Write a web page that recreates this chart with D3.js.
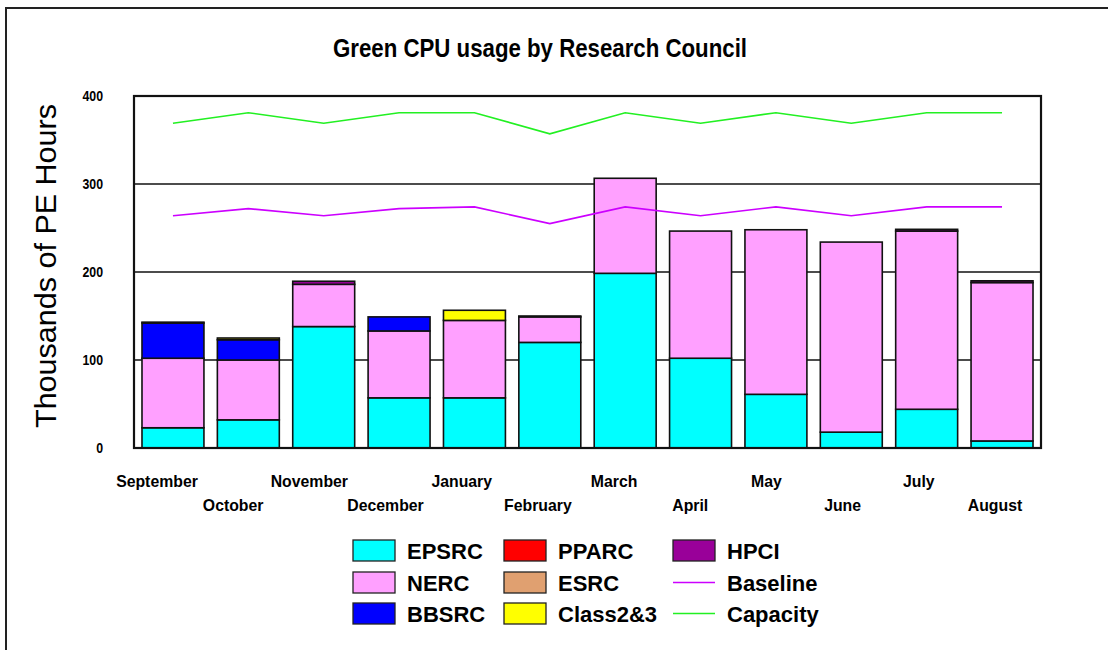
<!DOCTYPE html>
<html>
<head>
<meta charset="utf-8">
<script src="https://cdn.jsdelivr.net/npm/d3@7"></script>
<style>
  html, body { margin: 0; padding: 0; background: #fff; }
  svg { display: block; font-family: "Liberation Sans", Arial, Helvetica, sans-serif; }
</style>
</head>
<body>
<svg id="chart" width="1108" height="650"></svg>
<script>
// Monthly usage, thousands of PE hours
const months = ["September", "October", "November", "December", "January", "February",
                "March", "April", "May", "June", "July", "August"];
const epsrc    = [23, 32, 138, 57, 57, 120, 198.5, 102, 61, 18, 44, 8];
const nerc     = [79, 68, 48, 76, 88, 29, 108, 144.5, 187, 216, 202.5, 180];
const bbsrc    = [40, 23, 0, 16, 0, 0, 0, 0, 0, 0, 0, 0];
const pparc    = [0, 0, 0, 0, 0, 0, 0, 0, 0, 0, 0, 0];
const esrc     = [0, 0, 0, 0, 0, 0, 0, 0, 0, 0, 0, 0];
const class23  = [0, 2, 0, 0, 11.5, 0, 0, 0, 0, 0, 0, 0];
const hpci     = [1, 0, 3.5, 0, 0, 1, 0, 0, 0, 0, 2, 2];
const baseline = [264, 272, 264, 272, 274, 255, 274, 264, 274, 264, 274, 274];
const capacity = [369, 381, 369, 381, 381, 357, 381, 369, 381, 369, 381, 381];
const yTicks   = [0, 100, 200, 300, 400];

const councils = [
  { key: "EPSRC",    values: epsrc,   color: "#00ffff" },
  { key: "NERC",     values: nerc,    color: "#ffa0ff" },
  { key: "BBSRC",    values: bbsrc,   color: "#0000ff" },
  { key: "PPARC",    values: pparc,   color: "#ff0000" },
  { key: "ESRC",     values: esrc,    color: "#e0a070" },
  { key: "Class2&3", values: class23, color: "#ffff00" },
  { key: "HPCI",     values: hpci,    color: "#990099" }
];
const lines = [
  { key: "Baseline", values: baseline, color: "#cc00ff" },
  { key: "Capacity", values: capacity, color: "#22f022" }
];

const svg = d3.select("#chart");
const plot = { left: 134, right: 1041, top: 96, bottom: 448 };

// squeeze text horizontally so it reads like a narrow typeface
function narrow(sel, factor) {
  sel.each(function () {
    const w = this.getComputedTextLength();
    d3.select(this)
      .attr("textLength", w * factor)
      .attr("lengthAdjust", "spacingAndGlyphs");
  });
}

// outer frame
svg.append("rect")
  .attr("x", 6).attr("y", 8).attr("width", 1120).attr("height", 660)
  .attr("fill", "none").attr("stroke", "#222").attr("stroke-width", 2);

// title
svg.append("text")
  .attr("x", 540).attr("y", 57)
  .attr("text-anchor", "middle")
  .attr("font-size", 25).attr("font-weight", "bold")
  .attr("textLength", 414).attr("lengthAdjust", "spacingAndGlyphs")
  .text("Green CPU usage by Research Council");

const x = d3.scaleBand()
  .domain(months)
  .range([plot.left, plot.right])
  .paddingInner(0.178)
  .paddingOuter(0.106);

const y = d3.scaleLinear()
  .domain([0, 400])
  .range([plot.bottom, plot.top]);

// horizontal grid lines
svg.append("g")
  .selectAll("line")
  .data(yTicks.filter(d => d > 0 && d < 400))
  .join("line")
  .attr("x1", plot.left).attr("x2", plot.right)
  .attr("y1", d => y(d)).attr("y2", d => y(d))
  .attr("stroke", "#111").attr("stroke-width", 1.5);

// stacked bars
const rows = months.map((m, i) => {
  const r = { month: m };
  councils.forEach(c => { r[c.key] = c.values[i]; });
  return r;
});
const stack = d3.stack().keys(councils.map(c => c.key))(rows);

svg.append("g")
  .selectAll("g")
  .data(stack)
  .join("g")
  .attr("fill", (d, i) => councils[i].color)
  .selectAll("rect")
  .data(d => d.filter(s => s[1] - s[0] > 0))
  .join("rect")
  .attr("x", d => x(d.data.month))
  .attr("width", x.bandwidth())
  .attr("y", d => y(d[1]))
  .attr("height", d => y(d[0]) - y(d[1]))
  .attr("stroke", "#111").attr("stroke-width", 1.6);

// baseline and capacity lines
const lineGen = d3.line()
  .x((d, i) => x(months[i]) + x.bandwidth() / 2)
  .y(d => y(d));
svg.append("g")
  .selectAll("path")
  .data(lines)
  .join("path")
  .attr("d", d => lineGen(d.values))
  .attr("fill", "none")
  .attr("stroke", d => d.color)
  .attr("stroke-width", 1.6);

// plot frame
svg.append("rect")
  .attr("x", plot.left).attr("y", plot.top)
  .attr("width", plot.right - plot.left).attr("height", plot.bottom - plot.top)
  .attr("fill", "none").attr("stroke", "#111").attr("stroke-width", 2.2);

// y axis labels
const yAxis = d3.axisLeft(y).tickValues(yTicks).tickSize(0).tickPadding(0);
svg.append("g")
  .attr("transform", `translate(103,0)`)
  .call(yAxis)
  .call(g => g.select(".domain").remove())
  .call(g => g.selectAll("text")
    .attr("font-size", 14).attr("font-weight", "bold")
    .attr("font-family", "\"Liberation Sans\", Arial, sans-serif")
    .attr("fill", "#000")
    .call(narrow, 0.88));

svg.append("text")
  .attr("transform", "translate(56,266) rotate(-90)")
  .attr("text-anchor", "middle")
  .attr("font-size", 30)
  .attr("textLength", 324).attr("lengthAdjust", "spacingAndGlyphs")
  .text("Thousands of PE Hours");

// month labels, staggered over two rows
const labelX = d3.scalePoint().domain(months).range([157, 995]);
svg.append("g")
  .selectAll("text")
  .data(months)
  .join("text")
  .attr("x", d => labelX(d))
  .attr("y", (d, i) => i % 2 === 0 ? 487 : 511)
  .attr("text-anchor", "middle")
  .attr("font-size", 17).attr("font-weight", "bold")
  .text(d => d)
  .call(narrow, 0.93);

// legend
const legendItems = [
  ...councils.map(c => ({ key: c.key, color: c.color, type: "box" })),
  ...lines.map(l => ({ key: l.key, color: l.color, type: "line" }))
];
const colX = [353, 504, 673];
const rowY = [540, 572, 603];
const legend = svg.append("g");
legendItems.forEach((item, i) => {
  const col = Math.floor(i / 3), row = i % 3;
  const g = legend.append("g").attr("transform", `translate(${colX[col]},${rowY[row]})`);
  if (item.type === "box") {
    g.append("rect").attr("x", 0).attr("y", 0).attr("width", 42).attr("height", 21)
      .attr("fill", item.color).attr("stroke", "#222").attr("stroke-width", 1.3);
  } else {
    g.append("line").attr("x1", 0).attr("x2", 42).attr("y1", 10.5).attr("y2", 10.5)
      .attr("stroke", item.color).attr("stroke-width", 1.6);
  }
  g.append("text").attr("x", 54).attr("y", 18.5)
    .attr("font-size", 22).attr("font-weight", "bold")
    .text(item.key);
});
</script>
</body>
</html>
